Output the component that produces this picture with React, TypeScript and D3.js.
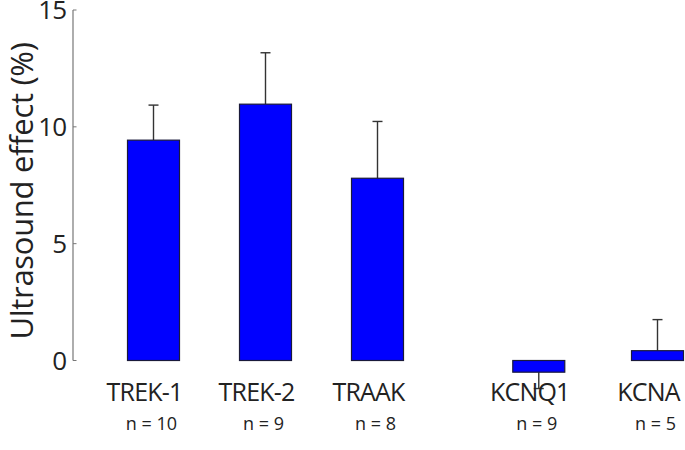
import * as d3 from "d3";
import { useEffect, useRef } from "react";

const channels = ["TREK-1", "TREK-2", "TRAAK", "KCNQ1", "KCNA"];
const nLabels = ["n = 10", "n = 9", "n = 8", "n = 9", "n = 5"];
const effect = [9.43, 10.97, 7.8, -0.5, 0.42];
const sem = [1.5, 2.2, 2.43, 0.7, 1.33];
// slot of each bar along the x axis (gap before the control channels)
const slots = [0, 1, 2, 3.44, 4.5];
const yTicks = [0, 5, 10, 15];

function drawChart(svgEl: SVGSVGElement) {
    const width = 685;
    const height = 450;
    const font = "'Open Sans', Lato, sans-serif";
    const svg = d3.select(svgEl);
    svg.selectAll("*").remove();

    const y = d3.scaleLinear().domain([0, 15]).range([360.5, 10]);
    const x = d3.scaleLinear().domain([0, 1]).range([153.5, 265.5]);
    const barW = 52;

    // y axis
    const axis = svg.append("g").attr("transform", "translate(73,0)");
    axis.append("line")
        .attr("y1", y(15)).attr("y2", y(0))
        .attr("stroke", "#777").attr("stroke-width", 1.2);
    axis.selectAll("line.tick")
        .data(yTicks)
        .enter()
        .append("line")
        .attr("class", "tick")
        .attr("x1", 0).attr("x2", 3.5)
        .attr("y1", d => y(d)).attr("y2", d => y(d))
        .attr("stroke", "#777");
    axis.selectAll("text")
        .data(yTicks)
        .enter()
        .append("text")
        .attr("x", -7)
        .attr("y", d => y(d))
        .attr("dy", "0.36em")
        .attr("text-anchor", "end")
        .attr("font-family", font)
        .attr("font-size", 26)
        .attr("letter-spacing", -1)
        .attr("fill", "#222")
        .text(d => d);

    svg.append("text")
        .attr("transform", "translate(33,191) rotate(-90)")
        .attr("text-anchor", "middle")
        .attr("font-family", font)
        .attr("font-size", 31)
        .attr("letter-spacing", -0.3)
        .attr("fill", "#222")
        .text("Ultrasound effect (%)");

    const data = channels.map((c, i) => ({ c, v: effect[i], e: sem[i], s: slots[i], n: nLabels[i] }));

    // error bars (drawn away from zero)
    const err = svg.selectAll("g.err").data(data).enter().append("g").attr("class", "err");
    err.append("line")
        .attr("x1", d => x(d.s)).attr("x2", d => x(d.s))
        .attr("y1", d => y(d.v)).attr("y2", d => y(d.v + Math.sign(d.v) * d.e))
        .attr("stroke", "#333").attr("stroke-width", 1.4);
    err.append("line")
        .attr("x1", d => x(d.s) - 5).attr("x2", d => x(d.s) + 5)
        .attr("y1", d => y(d.v + Math.sign(d.v) * d.e)).attr("y2", d => y(d.v + Math.sign(d.v) * d.e))
        .attr("stroke", "#333").attr("stroke-width", 1.4);

    svg.selectAll("rect.bar")
        .data(data)
        .enter()
        .append("rect")
        .attr("class", "bar")
        .attr("x", d => x(d.s) - barW / 2)
        .attr("width", barW)
        .attr("y", d => y(Math.max(0, d.v)))
        .attr("height", d => Math.abs(y(d.v) - y(0)))
        .attr("fill", "#0000ff")
        .attr("stroke", "#1a1a3a")
        .attr("stroke-width", 1.2);

    svg.selectAll("text.cat")
        .data(data)
        .enter()
        .append("text")
        .attr("class", "cat")
        .attr("x", d => x(d.s) - 9)
        .attr("y", 401)
        .attr("text-anchor", "middle")
        .attr("font-family", font)
        .attr("font-size", 25)
        .attr("letter-spacing", -0.8)
        .attr("fill", "#222")
        .text(d => d.c);

    svg.selectAll("text.n")
        .data(data)
        .enter()
        .append("text")
        .attr("class", "n")
        .attr("x", d => x(d.s) - 2)
        .attr("y", 430)
        .attr("text-anchor", "middle")
        .attr("font-family", font)
        .attr("font-size", 18)
        .attr("fill", "#222")
        .text(d => d.n);

    svg.attr("width", width).attr("height", height);
}

export default function App() {
    const svgRef = useRef<SVGSVGElement>(null);
    useEffect(() => {
        if (svgRef.current) drawChart(svgRef.current);
    }, []);
    return (
        <svg ref={svgRef} width={685} height={450}
            style={{ position: "absolute", left: 0, top: 0, background: "#fff" }} />
    );
}
